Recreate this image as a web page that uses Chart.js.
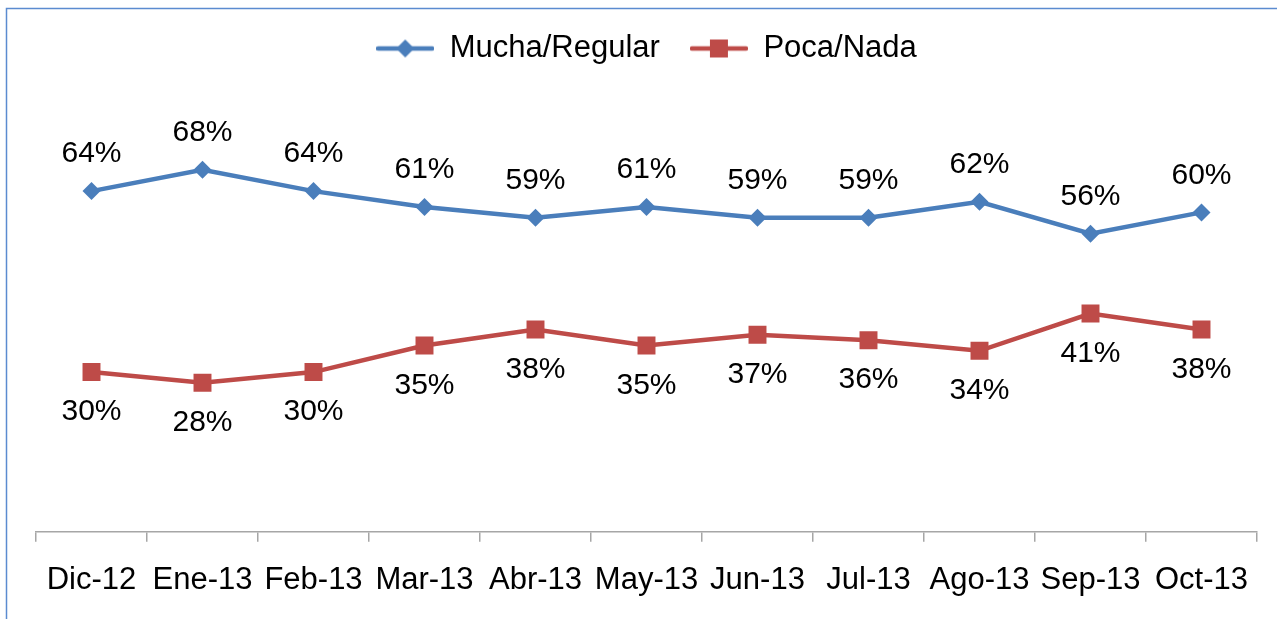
<!DOCTYPE html>
<html>
<head>
<meta charset="utf-8">
<script src="https://cdn.jsdelivr.net/npm/chart.js@4/dist/chart.umd.min.js"></script>
<style>
  body { margin: 0; background: #fff; }
  canvas { display: block; }
</style>
</head>
<body>
<canvas id="opinionChart" width="1277" height="619"></canvas>
<script>
// datos del gráfico
const meses = ['Dic-12', 'Ene-13', 'Feb-13', 'Mar-13', 'Abr-13', 'May-13', 'Jun-13', 'Jul-13', 'Ago-13', 'Sep-13', 'Oct-13'];
const muchaRegular = [64, 68, 64, 61, 59, 61, 59, 59, 62, 56, 60];
const pocaNada = [30, 28, 30, 35, 38, 35, 37, 36, 34, 41, 38];

const AZUL = '#4a7ebb';
const ROJO = '#be4b48';
const FUENTE = '"Liberation Sans", Arial, sans-serif';

// iconos de la leyenda: línea + marcador
function iconoLeyenda(color, forma) {
    const c = document.createElement('canvas');
    c.width = 58; c.height = 22;
    const g = c.getContext('2d');
    g.strokeStyle = color;
    g.lineWidth = 4.5;
    g.lineCap = 'round';
    g.beginPath(); g.moveTo(2, 11); g.lineTo(56, 11); g.stroke();
    g.fillStyle = color;
    if (forma === 'diamante') {
        g.beginPath();
        g.moveTo(29, 2); g.lineTo(38, 11); g.lineTo(29, 20); g.lineTo(20, 11);
        g.closePath(); g.fill();
    } else {
        g.fillRect(20, 2, 18, 18);
    }
    return c;
}
const iconos = [iconoLeyenda(AZUL, 'diamante'), iconoLeyenda(ROJO, 'cuadrado')];

// marco azul alrededor del gráfico
const marco = {
    id: 'marco',
    beforeDraw(chart) {
        const ctx = chart.ctx;
        ctx.save();
        ctx.strokeStyle = '#5b8bd0';
        ctx.lineWidth = 1.5;
        ctx.strokeRect(6.5, 8.5, 1400, 800);
        ctx.restore();
    }
};

// etiquetas de porcentaje sobre/bajo los puntos
const etiquetas = {
    id: 'etiquetas',
    afterDatasetsDraw(chart) {
        const ctx = chart.ctx;
        ctx.save();
        ctx.font = '30px ' + FUENTE;
        ctx.fillStyle = '#000';
        ctx.textAlign = 'center';
        ctx.textBaseline = 'middle';
        chart.data.datasets.forEach((ds, i) => {
            const meta = chart.getDatasetMeta(i);
            meta.data.forEach((pt, j) => {
                const dy = i === 0 ? -37 : 40;
                ctx.fillText(ds.data[j] + '%', pt.x, pt.y + dy);
            });
        });
        ctx.restore();
    }
};

new Chart(document.getElementById('opinionChart'), {
    type: 'line',
    data: {
        labels: meses,
        datasets: [
            {
                label: 'Mucha/Regular',
                data: muchaRegular,
                borderColor: AZUL,
                backgroundColor: AZUL,
                borderWidth: 4.5,
                pointStyle: 'rectRot',
                pointRadius: 9,
                pointBorderWidth: 0,
                tension: 0
            },
            {
                label: 'Poca/Nada',
                data: pocaNada,
                borderColor: ROJO,
                backgroundColor: ROJO,
                borderWidth: 4.5,
                pointStyle: 'rect',
                pointRadius: 12.7,
                pointBorderWidth: 0,
                tension: 0
            }
        ]
    },
    options: {
        responsive: false,
        animation: false,
        layout: { padding: { top: 3, left: 36, right: 20, bottom: 0 } },
        plugins: {
            legend: {
                display: true,
                position: 'top',
                labels: {
                    usePointStyle: true,
                    pointStyleWidth: 58,
                    padding: 30,
                    color: '#000',
                    font: { family: FUENTE, size: 31 },
                    generateLabels(chart) {
                        const items = Chart.defaults.plugins.legend.labels.generateLabels(chart);
                        items.forEach((it, i) => { it.pointStyle = iconos[i]; });
                        return items;
                    }
                }
            },
            tooltip: { enabled: false }
        },
        scales: {
            x: {
                offset: true,
                grid: {
                    offset: true,
                    drawOnChartArea: false,
                    drawTicks: true,
                    tickLength: 10,
                    color: '#a6a6a6',
                    lineWidth: 1.5
                },
                border: { color: '#a6a6a6', width: 1.5 },
                ticks: {
                    autoSkip: false,
                    maxRotation: 0,
                    padding: 20,
                    color: '#000',
                    font: { family: FUENTE, size: 31 }
                }
            },
            y: {
                display: false,
                min: 0,
                max: 86
            }
        }
    },
    plugins: [marco, etiquetas]
});
</script>
</body>
</html>
